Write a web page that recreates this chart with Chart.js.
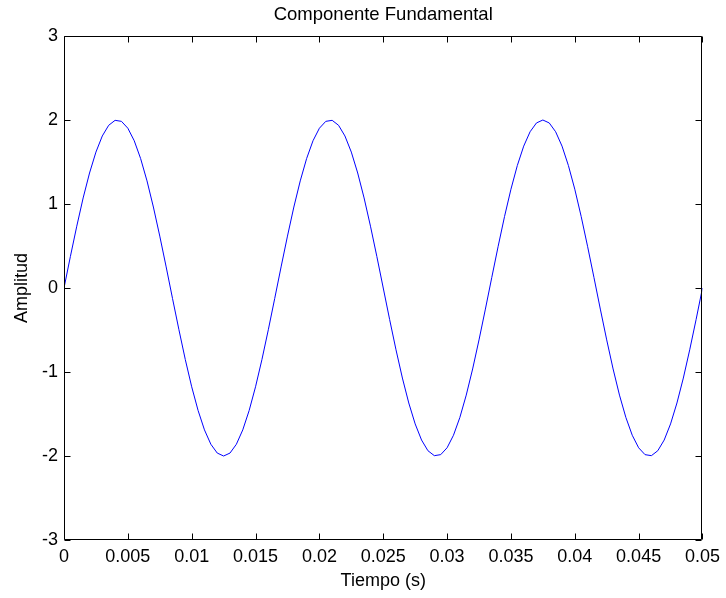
<!DOCTYPE html>
<html>
<head>
<meta charset="utf-8">
<title>Componente Fundamental</title>
<script src="https://cdn.jsdelivr.net/npm/chart.js@4.4.1/dist/chart.umd.min.js"></script>
<style>
  html, body { margin: 0; padding: 0; background: #fff; }
  #wrap { width: 726px; height: 598px; }
</style>
</head>
<body>
<div id="wrap"><canvas id="senal" width="726" height="598"></canvas></div>
<script>
// Muestras de la componente fundamental (t en segundos, cada 0.5 ms)
const tiempo = [
  0, 0.0005, 0.001, 0.0015, 0.002, 0.0025, 0.003, 0.0035, 0.004, 0.0045,
  0.005, 0.0055, 0.006, 0.0065, 0.007, 0.0075, 0.008, 0.0085, 0.009, 0.0095,
  0.01, 0.0105, 0.011, 0.0115, 0.012, 0.0125, 0.013, 0.0135, 0.014, 0.0145,
  0.015, 0.0155, 0.016, 0.0165, 0.017, 0.0175, 0.018, 0.0185, 0.019, 0.0195,
  0.02, 0.0205, 0.021, 0.0215, 0.022, 0.0225, 0.023, 0.0235, 0.024, 0.0245,
  0.025, 0.0255, 0.026, 0.0265, 0.027, 0.0275, 0.028, 0.0285, 0.029, 0.0295,
  0.03, 0.0305, 0.031, 0.0315, 0.032, 0.0325, 0.033, 0.0335, 0.034, 0.0345,
  0.035, 0.0355, 0.036, 0.0365, 0.037, 0.0375, 0.038, 0.0385, 0.039, 0.0395,
  0.04, 0.0405, 0.041, 0.0415, 0.042, 0.0425, 0.043, 0.0435, 0.044, 0.0445,
  0.045, 0.0455, 0.046, 0.0465, 0.047, 0.0475, 0.048, 0.0485, 0.049, 0.0495,
  0.05
];

const amplitud = [
  0, 0.375, 0.736, 1.072, 1.369, 1.618, 1.810, 1.937, 1.996, 1.984,
  1.902, 1.753, 1.541, 1.275, 0.964, 0.618, 0.251, -0.126, -0.497, -0.852,
  -1.176, -1.458, -1.689, -1.860, -1.965, -2.000, -1.965, -1.860, -1.689, -1.458,
  -1.176, -0.852, -0.497, -0.126, 0.251, 0.618, 0.964, 1.275, 1.541, 1.753,
  1.902, 1.984, 1.996, 1.937, 1.810, 1.618, 1.369, 1.072, 0.736, 0.375,
  0, -0.375, -0.736, -1.072, -1.369, -1.618, -1.810, -1.937, -1.996, -1.984,
  -1.902, -1.753, -1.541, -1.275, -0.964, -0.618, -0.251, 0.126, 0.497, 0.852,
  1.176, 1.458, 1.689, 1.860, 1.965, 2.000, 1.965, 1.860, 1.689, 1.458,
  1.176, 0.852, 0.497, 0.126, -0.251, -0.618, -0.964, -1.275, -1.541, -1.753,
  -1.902, -1.984, -1.996, -1.937, -1.810, -1.618, -1.369, -1.072, -0.736, -0.375,
  0
];

const xTickLabels = ["0", "0.005", "0.01", "0.015", "0.02", "0.025", "0.03", "0.035", "0.04", "0.045", "0.05"];
const yTickLabels = ["-3", "-2", "-1", "0", "1", "2", "3"];

const FONT = "'Liberation Sans', Arial, sans-serif";
const TICK_LEN = 6;

// caja completa y marcas de escala hacia adentro en los cuatro lados
const ejesMatlab = {
  id: "ejesMatlab",
  afterDraw(chart) {
    const { ctx, chartArea: a, scales } = chart;
    const L = Math.round(a.left) + 0.5, R = Math.round(a.right) - 0.5;
    const T = Math.round(a.top) + 0.5, B = Math.round(a.bottom) - 0.5;
    ctx.save();
    ctx.strokeStyle = "#000";
    ctx.lineWidth = 1;
    ctx.beginPath();
    ctx.rect(L, T, R - L, B - T);
    scales.x.ticks.forEach((t) => {
      const px = Math.round(scales.x.getPixelForValue(t.value)) + 0.5;
      ctx.moveTo(px, B); ctx.lineTo(px, B - TICK_LEN);
      ctx.moveTo(px, T); ctx.lineTo(px, T + TICK_LEN);
    });
    scales.y.ticks.forEach((t) => {
      const py = Math.round(scales.y.getPixelForValue(t.value)) + 0.5;
      ctx.moveTo(L, py); ctx.lineTo(L + TICK_LEN, py);
      ctx.moveTo(R, py); ctx.lineTo(R - TICK_LEN, py);
    });
    ctx.stroke();
    ctx.restore();
  },
};

const ctx = document.getElementById("senal").getContext("2d");

new Chart(ctx, {
  type: "line",
  data: {
    datasets: [
      {
        data: tiempo.map((t, i) => ({ x: t, y: amplitud[i] })),
        borderColor: "#0000ff",
        borderWidth: 1,
        pointRadius: 0,
        tension: 0,
        fill: false,
      },
    ],
  },
  options: {
    responsive: false,
    animation: false,
    layout: { padding: { left: 0, right: 23, top: 0, bottom: 0 } },
    plugins: {
      legend: { display: false },
      tooltip: { enabled: false },
      title: {
        display: true,
        fullSize: false,
        text: "Componente Fundamental",
        color: "#000",
        font: { family: FONT, size: 18.5, weight: "normal" },
        padding: { top: 4, bottom: 9.8 },
      },
    },
    scales: {
      x: {
        type: "linear",
        min: 0,
        max: 0.05,
        afterFit(scale) { scale.height = 58; },
        grid: { display: false, drawTicks: false },
        border: { display: false },
        ticks: {
          stepSize: 0.005,
          padding: 6,
          color: "#000",
          maxRotation: 0,
          autoSkip: false,
          font: { family: FONT, size: 18 },
          callback: (v, i) => xTickLabels[i],
        },
        title: {
          display: true,
          text: "Tiempo (s)",
          color: "#000",
          font: { family: FONT, size: 18 },
          padding: { top: 0, bottom: 6 },
        },
      },
      y: {
        min: -3,
        max: 3,
        afterFit(scale) { scale.width = 64; },
        grid: { display: false, drawTicks: false },
        border: { display: false },
        ticks: {
          stepSize: 1,
          padding: 6,
          color: "#000",
          font: { family: FONT, size: 18 },
          callback: (v, i) => yTickLabels[i],
        },
        title: {
          display: true,
          text: "Amplitud",
          color: "#000",
          font: { family: FONT, size: 18 },
          padding: { top: 11, bottom: 0 },
        },
      },
    },
  },
  plugins: [ejesMatlab],
});
</script>
</body>
</html>
